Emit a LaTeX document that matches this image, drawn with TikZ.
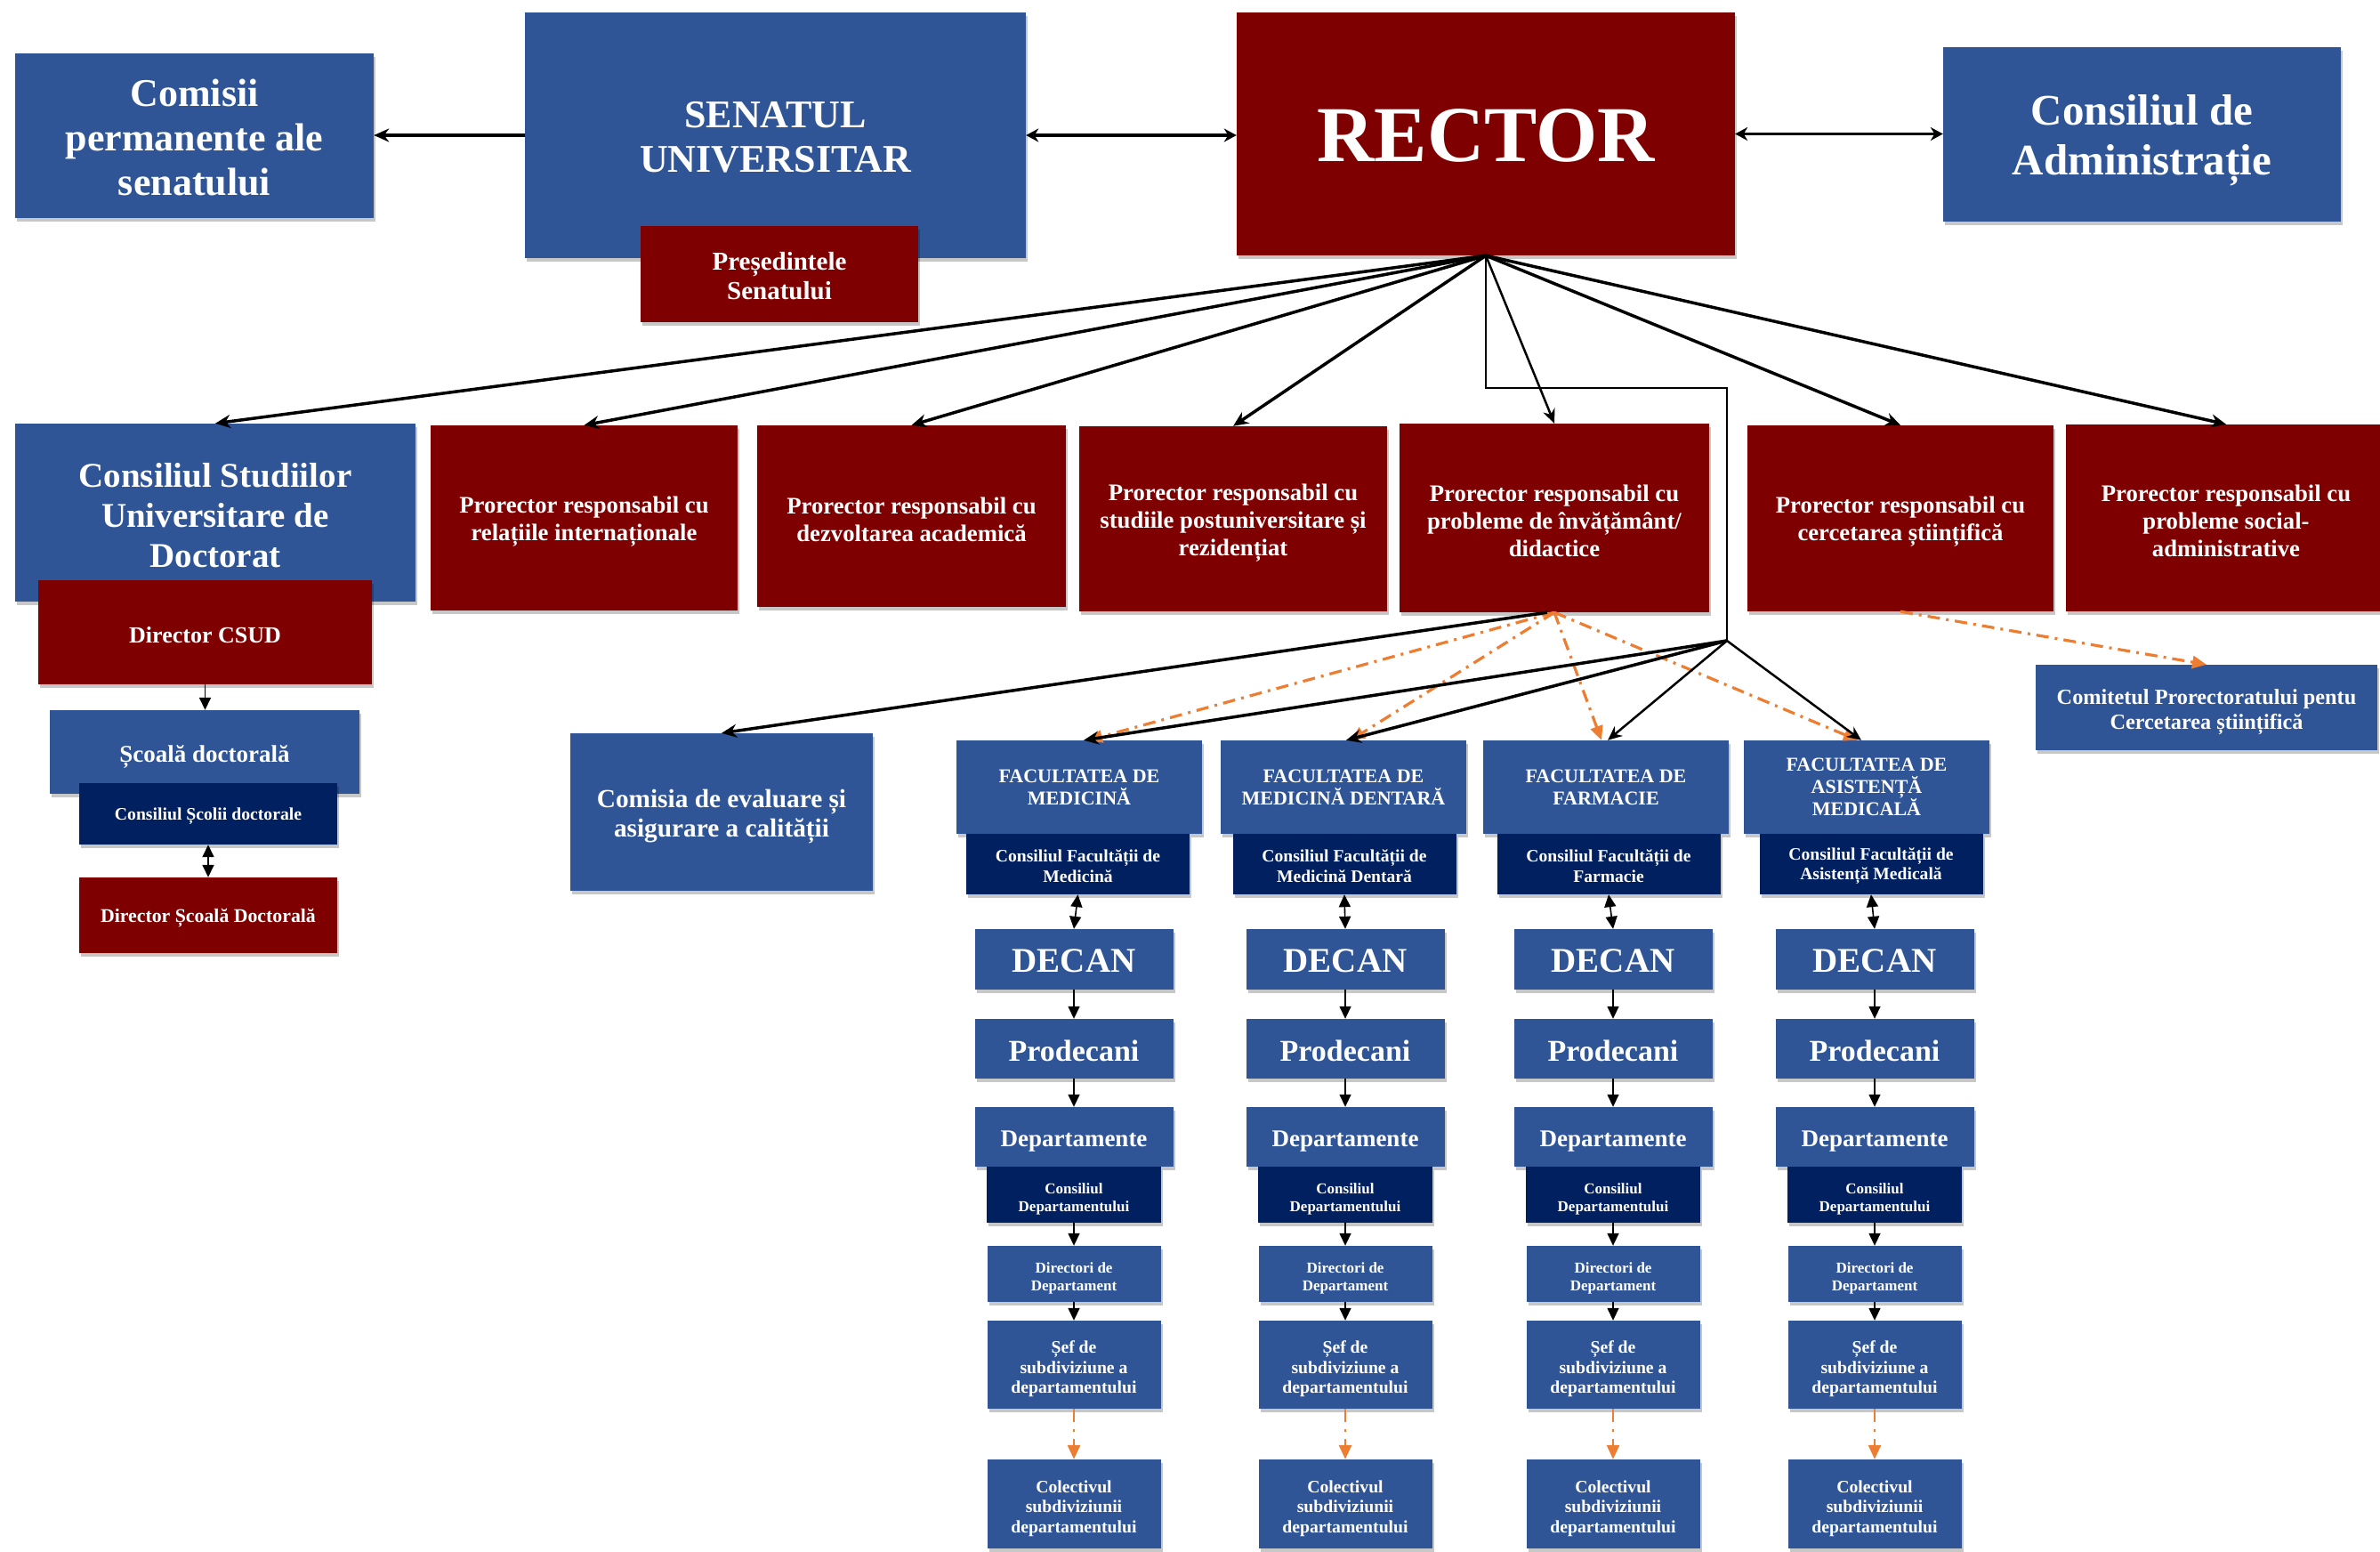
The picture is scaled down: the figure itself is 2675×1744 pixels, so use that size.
\documentclass[tikz,border=0pt]{standalone}
\usepackage{fontspec}
\setmainfont{Liberation Serif}
\usetikzlibrary{arrows.meta,shadows,calc}
\definecolor{cblue}{HTML}{2F5597}
\definecolor{cred}{HTML}{7F0000}
\definecolor{cnavy}{HTML}{002060}
\definecolor{corange}{HTML}{ED7D31}
\newcommand\fs[2]{\fontsize{#1}{#2}\selectfont\bfseries}
\tikzset{
 box/.style={rectangle, inner sep=0pt,
   drop shadow={shadow xshift=2pt,shadow yshift=-4pt,opacity=0.22,fill=black}},
 bluebox/.style={box,fill=cblue},
 redbox/.style={box,fill=cred},
 navybox/.style={box,fill=cnavy},
 boxtext/.style={inner sep=0pt, align=center, text=white},
 bigarrow/.style={line width=3.5pt,-{Stealth[length=17pt,width=15pt]}},
 thinbig/.style={line width=2.5pt,-{Stealth[length=16pt,width=14pt]}},
 dbigarrow/.style={line width=3.5pt,{Stealth[length=14pt,width=15pt]}-{Stealth[length=14pt,width=15pt]}},
 smallarrow/.style={line width=1.6pt,-{Triangle[length=14pt,width=13pt]}},
 dsmallarrow/.style={line width=1.6pt,{Triangle[length=14pt,width=13pt]}-{Triangle[length=14pt,width=13pt]}},
 orangearrow/.style={draw=corange,line width=3.2pt,dash pattern=on 14pt off 7pt on 3pt off 7pt,-{Triangle[length=16pt,width=14pt]}},
 orangesmall/.style={draw=corange,line width=2.8pt,dash pattern=on 15pt off 8pt on 3pt off 8pt,-{Triangle[length=16pt,width=14pt]}},
}
% \bx{style}{name}{x}{y}{w}{h}{font size}{leading}{text}  (text lowered by \tshift)
\def\tshift{5}
\newcommand\bx[9]{%
\node[#1, minimum width=#5pt, minimum height=#6pt] (#2) at (#3,#4) {};
\node[boxtext, font=\fs{#7}{#8}] (#2t) at ([yshift=-\tshift pt]#2.center) {#9};
}
\newcommand\facol[6]{%
\def\tshift{0}%
\bx{bluebox}{#1fac}{#2}{884.5}{276}{105}{22}{25}{#5}
\def\tshift{2}%
\bx{navybox}{#1cf}{#3}{971}{251}{68}{19.6}{22.7}{#6}
\bx{bluebox}{#1dec}{#4}{1078}{223}{68}{39}{45}{DECAN}
\bx{bluebox}{#1pro}{#4}{1178.5}{223}{67}{34}{40}{Prodecani}
\def\tshift{5}%
\bx{bluebox}{#1dep}{#4}{1277.5}{223}{67}{27}{31}{Departamente}
\bx{navybox}{#1cd}{#4}{1342.5}{196}{63}{17}{20}{Consiliul\\Departamentului}
\bx{bluebox}{#1dir}{#4}{1431.5}{195}{63}{17}{20}{Directori de\\Departament}
\bx{bluebox}{#1sef}{#4}{1533.5}{195}{99}{19.7}{22.5}{Șef de\\subdiviziune a\\departamentului}
\bx{bluebox}{#1col}{#4}{1690}{195}{100}{19.7}{22.5}{Colectivul\\subdiviziunii\\departamentului}
\draw[dsmallarrow] (#1cf.south) -- (#1dec.north);
\draw[smallarrow] (#1dec.south) -- (#1pro.north);
\draw[smallarrow] (#1pro.south) -- (#1dep.north);
\draw[smallarrow] (#1cd.south) -- (#1dir.north);
\draw[smallarrow] (#1dir.south) -- (#1sef.north);
\draw[orangesmall] (#1sef.south) -- (#1col.north);
}
\begin{document}
\begin{tikzpicture}[x=1pt,y=-1pt]
\useasboundingbox (0,0) rectangle (2675,1744);
\fill[white] (0,0) rectangle (2675,1744);

% top row
\def\tshift{2}
\bx{bluebox}{comisii}{218.5}{152.5}{403}{185}{44}{50}{Comisii\\permanente ale\\senatului}
\bx{bluebox}{senat}{871.5}{152}{563}{276}{44}{50}{SENATUL\\UNIVERSITAR}
\bx{redbox}{pres}{876}{308}{312}{108}{29}{33}{Președintele\\Senatului}
\bx{redbox}{rector}{1670}{150.5}{560}{273}{89}{95}{RECTOR}
\def\tshift{7}
\bx{bluebox}{admin}{2407.5}{151}{447}{196}{49}{56}{Consiliul de\\Administrație}

% doctoral column
\def\tshift{3}
\bx{bluebox}{csud}{242}{576}{450}{200}{39}{45}{Consiliul Studiilor\\Universitare de\\Doctorat}
\bx{redbox}{dircsud}{230.5}{710.5}{375}{117}{26}{30}{Director CSUD}
\def\tshift{5}
\bx{bluebox}{scoala}{230}{845}{348}{94}{27}{31}{Școală doctorală}
\def\tshift{3}
\bx{navybox}{consscoala}{234}{914.5}{290}{69}{19.7}{23}{Consiliul Școlii doctorale}
\bx{redbox}{dirscoala}{234}{1028.5}{290}{85}{21.8}{25}{Director Școală Doctorală}

% prorectors
\def\tshift{4}
\bx{redbox}{p1}{656.5}{582}{345}{208}{26.7}{31}{Prorector responsabil cu\\relațiile internaționale}
\bx{redbox}{p2}{1024.5}{580}{347}{204}{26.7}{31}{Prorector responsabil cu\\dezvoltarea academică}
\def\tshift{5}
\bx{redbox}{p3}{1386}{583}{346}{208}{26.7}{31}{Prorector responsabil cu\\studiile postuniversitare și\\rezidențiat}
\def\tshift{3}
\bx{redbox}{p4}{1747}{582}{348}{212}{26.7}{31}{Prorector responsabil cu\\probleme de învățământ/\\didactice}
\def\tshift{4}
\bx{redbox}{p5}{2136}{582.5}{344}{209}{26.7}{31}{Prorector responsabil cu\\cercetarea științifică}
\def\tshift{3}
\bx{redbox}{p6}{2502}{582}{360}{210}{26.7}{31}{Prorector responsabil cu\\probleme social-\\administrative}

\def\tshift{5}
\bx{bluebox}{comisia}{811}{912.5}{340}{177}{29.3}{33}{Comisia de evaluare și\\asigurare a calității}
\bx{bluebox}{comitet}{2480}{795}{384}{96}{24.3}{28}{Comitetul Prorectoratului pentu\\Cercetarea științifică}

% faculties
\facol{m}{1213}{1211.5}{1207}{FACULTATEA DE\\MEDICINĂ}{Consiliul Facultății de\\Medicină}
\facol{d}{1510}{1511}{1512}{FACULTATEA DE\\MEDICINĂ DENTARĂ}{Consiliul Facultății de\\Medicină Dentară}
\facol{f}{1805}{1808}{1813}{FACULTATEA DE\\FARMACIE}{Consiliul Facultății de\\Farmacie}
\facol{a}{2098}{2103}{2107}{FACULTATEA DE\\ASISTENȚĂ\\MEDICALĂ}{Consiliul Facultății de\\Asistență Medicală}

% top connectors
\draw[bigarrow] (senat.west) -- (senat.west -| comisii.east);
\draw[dbigarrow] (senat.east) -- (senat.east -| rector.west);
\draw[dbigarrow] (rector.east) -- (rector.east -| admin.west);
\foreach \t in {csud,p1,p2,p3,p5,p6} \draw[bigarrow] (rector.south) -- (\t.north);
\draw[thinbig] (rector.south) -- (p4.north);

\coordinate (K) at (1941,436);
\coordinate (J) at (1941,720);
\draw[line width=2.5pt] (rector.south) |- (K) -- (J);

% orange dash-dot links
\draw[orangearrow] (p4.south) -- ([xshift=10pt]mfac.north);
\draw[orangearrow] (p4.south) -- ([xshift=8pt]dfac.north);
\draw[orangearrow] (p4.south) -- ([xshift=-5pt]ffac.north);
\draw[orangearrow] (p4.south) -- ([xshift=-10pt]afac.north);
\draw[orangearrow] (p5.south) -- (comitet.north);

% black links to faculties and comisia
\draw[bigarrow] ([xshift=-8pt]p4.south) -- (comisia.north);
\draw[bigarrow] (J) -- ([xshift=5pt]mfac.north);
\draw[bigarrow] (J) -- ([xshift=3pt]dfac.north);
\draw[thinbig] (J) -- ([xshift=2pt]ffac.north);
\draw[thinbig] (J) -- ([xshift=-6pt]afac.north);

% doctoral column links
\draw[smallarrow] (dircsud.south) -- (dircsud.south |- scoala.north);
\draw[dsmallarrow] (consscoala.south) -- (dirscoala.north);
\end{tikzpicture}
\end{document}
